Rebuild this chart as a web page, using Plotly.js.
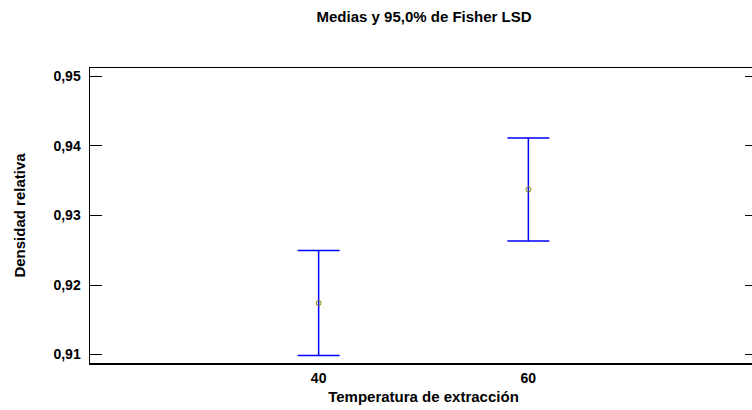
<!DOCTYPE html>
<html>
<head>
<meta charset="utf-8">
<script src="https://cdn.plot.ly/plotly-3.0.1.min.js"></script>
<style>
  html, body { margin: 0; padding: 0; overflow: hidden; background: #fff; }
  #chart { width: 760px; height: 410px; }
</style>
</head>
<body>
<div id="chart"></div>
<script>
// Temperatura de extracción levels and mean relative density with Fisher LSD half-widths
const temperaturas = [40, 60];
const medias = [0.91741, 0.93373];
const semiIntervalo = [0.00754, 0.00740];
const yTicks = [0.91, 0.92, 0.93, 0.94, 0.95];

const font = 'Arial, "Liberation Sans", sans-serif';

const trace = {
  x: temperaturas,
  y: medias,
  type: 'scatter',
  mode: 'markers',
  marker: { symbol: 'circle-open', size: 5, color: '#8a8a00', line: { width: 1, color: '#8a8a00' } },
  error_y: { type: 'data', array: semiIntervalo, visible: true, color: '#0000ff', thickness: 1.5, width: 21 },
  hoverinfo: 'skip',
  showlegend: false
};

const layout = {
  width: 760,
  height: 410,
  separators: ',.',
  paper_bgcolor: '#ffffff',
  plot_bgcolor: '#ffffff',
  margin: { l: 90, r: 3, t: 68, b: 47 },
  title: {
    text: 'Medias y 95,0% de Fisher LSD',
    font: { family: font, size: 15, color: '#000', weight: 'bold' },
    x: 0.558, xanchor: 'center', y: 0.96, yanchor: 'middle'
  },
  xaxis: {
    range: [18.2, 81.8],
    tickvals: temperaturas,
    ticktext: temperaturas.map(String),
    ticks: '',
    ticklabelstandoff: 2,
    showgrid: false,
    zeroline: false,
    showline: true,
    linecolor: '#000',
    linewidth: 1.5,
    mirror: true,
    tickfont: { family: font, size: 14, color: '#000', weight: 'bold' },
    title: { text: 'Temperatura de extracción', font: { family: font, size: 15, color: '#000', weight: 'bold' }, standoff: 6 }
  },
  yaxis: {
    range: [0.90879, 0.95119],
    tickvals: yTicks,
    tickformat: '.2f',
    ticks: 'inside',
    ticklen: 12,
    tickwidth: 1,
    tickcolor: '#000',
    ticklabelstandoff: 5,
    showgrid: false,
    zeroline: false,
    showline: true,
    linecolor: '#000',
    linewidth: 1.5,
    mirror: 'ticks',
    tickfont: { family: font, size: 14, color: '#000', weight: 'bold' },
    title: { text: 'Densidad relativa', font: { family: font, size: 15, color: '#000', weight: 'bold' }, standoff: 24 }
  }
};

Plotly.newPlot('chart', [trace], layout, { displayModeBar: false, staticPlot: true });
</script>
</body>
</html>
